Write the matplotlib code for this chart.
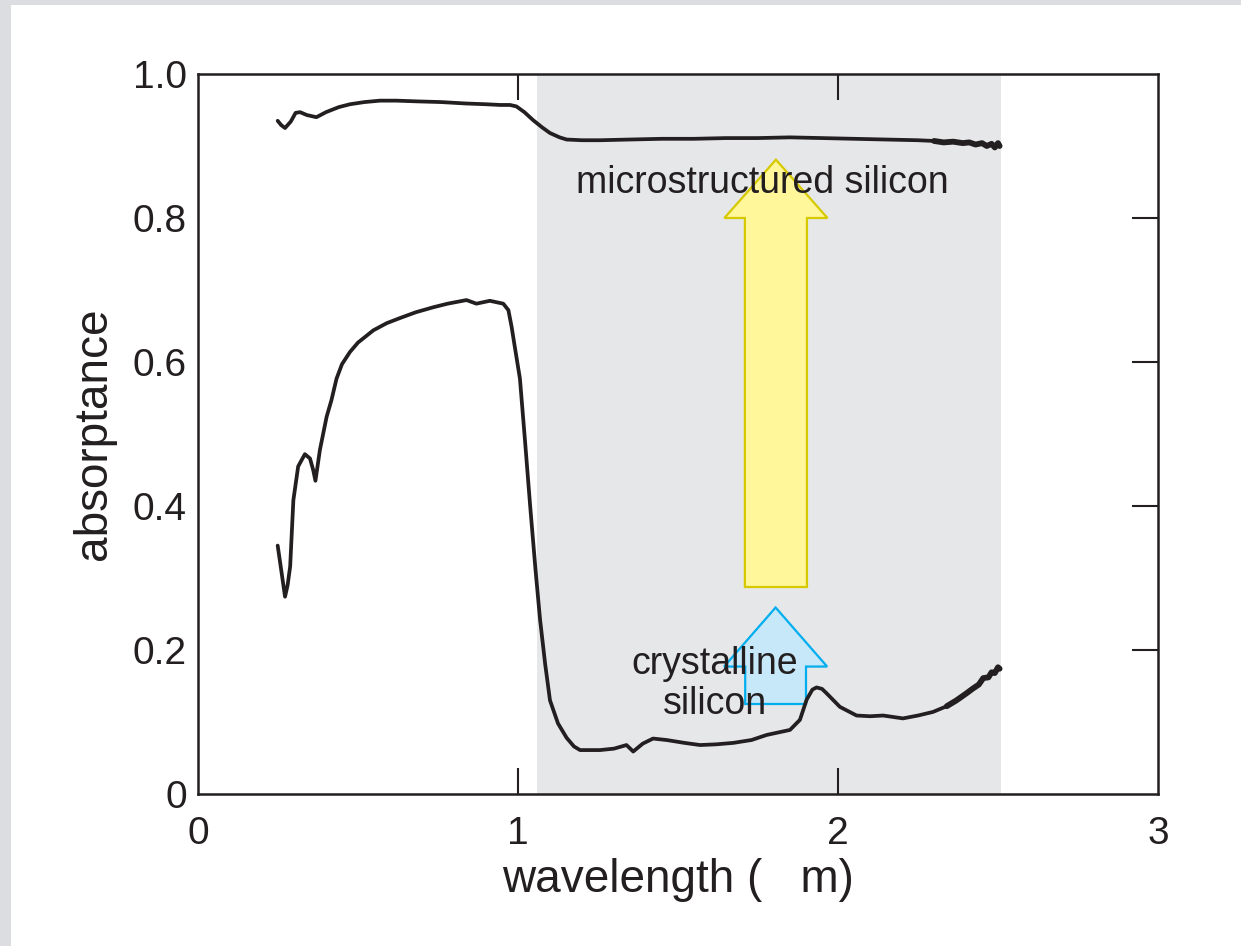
import matplotlib
matplotlib.use("Agg")
import matplotlib.pyplot as plt
from matplotlib.patches import FancyArrow, Rectangle
import numpy as np

plt.rcParams['font.family'] = ['Liberation Sans', 'DejaVu Sans']

# microstructured silicon (upper curve)
x_micro = [0.249, 0.260, 0.272, 0.290, 0.305, 0.319, 0.340, 0.370, 0.400, 0.440, 0.475,
           0.520, 0.569, 0.620, 0.683, 0.760, 0.839, 0.900, 0.944, 0.975, 0.995,
           1.020, 1.047, 1.075, 1.100, 1.130, 1.152, 1.200, 1.256, 1.350, 1.450,
           1.550, 1.650, 1.750, 1.850, 1.950, 2.050, 2.150, 2.250, 2.300, 2.330,
           2.360, 2.390, 2.410, 2.430, 2.450, 2.465, 2.480, 2.490, 2.500, 2.505]
y_micro = [0.935, 0.929, 0.925, 0.934, 0.946, 0.947, 0.943, 0.940, 0.947, 0.954, 0.958,
           0.961, 0.963, 0.963, 0.962, 0.961, 0.959, 0.958, 0.957, 0.957, 0.955,
           0.947, 0.936, 0.926, 0.918, 0.912, 0.909, 0.908, 0.908, 0.909, 0.910,
           0.910, 0.911, 0.911, 0.912, 0.911, 0.910, 0.909, 0.908, 0.907, 0.905,
           0.906, 0.904, 0.905, 0.902, 0.904, 0.900, 0.903, 0.898, 0.904, 0.900]

# crystalline silicon (lower curve)
x_cryst = [0.249, 0.262, 0.272, 0.280, 0.288, 0.298, 0.313, 0.334, 0.350, 0.360, 0.367,
           0.381, 0.402, 0.417, 0.433, 0.450, 0.475, 0.500, 0.548, 0.590, 0.631,
           0.680, 0.735, 0.780, 0.839, 0.870,
           0.912, 0.954, 0.970, 0.980, 0.990, 1.006, 1.022, 1.038, 1.055, 1.069,
           1.085, 1.100, 1.125, 1.152, 1.175, 1.194, 1.256, 1.300, 1.339, 1.360,
           1.390, 1.422, 1.464, 1.520, 1.569, 1.620, 1.673, 1.730, 1.777, 1.850,
           1.881, 1.902, 1.920, 1.933, 1.950, 1.964, 2.006, 2.058, 2.100, 2.141,
           2.203, 2.250, 2.297, 2.340, 2.370, 2.402, 2.420, 2.440, 2.454, 2.470,
           2.480, 2.490, 2.500, 2.505]
y_cryst = [0.345, 0.305, 0.274, 0.290, 0.316, 0.408, 0.455, 0.472, 0.466, 0.450, 0.435,
           0.478, 0.524, 0.547, 0.577, 0.597, 0.614, 0.627, 0.644, 0.654, 0.661,
           0.669, 0.676, 0.681, 0.686, 0.681,
           0.685, 0.681, 0.672, 0.649, 0.621, 0.577, 0.490, 0.400, 0.310, 0.242,
           0.180, 0.130, 0.098, 0.078, 0.066, 0.061, 0.061, 0.063, 0.068, 0.059,
           0.070, 0.077, 0.075, 0.071, 0.068, 0.069, 0.071, 0.075, 0.082, 0.089,
           0.103, 0.131, 0.145, 0.148, 0.146, 0.140, 0.121, 0.109, 0.108, 0.109,
           0.105, 0.109, 0.114, 0.122, 0.130, 0.140, 0.146, 0.152, 0.161, 0.162,
           0.169, 0.168, 0.176, 0.174]

x_ticks = [0, 1, 2, 3]
x_ticklabels = ['0', '1', '2', '3']
y_ticks = [0, 0.2, 0.4, 0.6, 0.8, 1.0]
y_ticklabels = ['0', '0.2', '0.4', '0.6', '0.8', '1.0']

span_lo, span_hi = 1.06, 2.51
noisy_from = 2.30  # the measured traces get grainy beyond this wavelength

# arrows: center x, base y, tip y, shaft width, head width, head length
arrow_big = (1.806, 0.2875, 0.881, 0.194, 0.322, 0.081)
arrow_small = (1.805, 0.125, 0.259, 0.19, 0.322, 0.082)

ink = '#231f20'

fig = plt.figure(figsize=(12.41, 9.46), dpi=100, facecolor='#dcdde0')
fig.patches.append(Rectangle((11 / 1241, 0), 1, 1 - 5 / 946, transform=fig.transFigure,
                             facecolor='white', edgecolor='none', zorder=-10))
ax = fig.add_axes([198 / 1241, 152 / 946, 960 / 1241, 720 / 946])
ax.set_facecolor('white')

ax.axvspan(span_lo, span_hi, color='#e6e7e8', zorder=0, lw=0)

for a, fc, ec in [(arrow_big, '#fff799', '#d7c900'), (arrow_small, '#c6e8f8', '#00aeef')]:
    xc, yb, yt, w, hw, hl = a
    ax.add_patch(FancyArrow(xc, yb, 0, yt - yb, width=w, head_width=hw, head_length=hl,
                            length_includes_head=True, facecolor=fc, edgecolor=ec,
                            lw=1.6, zorder=2))

for xs, ys in [(x_micro, y_micro), (x_cryst, y_cryst)]:
    xs = np.array(xs)
    ys = np.array(ys)
    ax.plot(xs, ys, color=ink, lw=2.7, zorder=3, solid_joinstyle='round',
            solid_capstyle='round')
    m = xs >= noisy_from
    ax.plot(xs[m], ys[m], color=ink, lw=4.2, zorder=3, solid_joinstyle='round',
            solid_capstyle='round')

ax.text(1.7625, 0.849, 'microstructured silicon', ha='center', va='center',
        fontsize=27, color=ink, zorder=4)
ax.text(1.616, 0.153, 'crystalline\nsilicon', ha='center', va='center',
        fontsize=27, color=ink, linespacing=1.12, zorder=4)

ax.set_xlim(0, 3)
ax.set_ylim(0, 1.0)
ax.set_xticks(x_ticks)
ax.set_xticklabels(x_ticklabels)
ax.set_yticks(y_ticks)
ax.set_yticklabels(y_ticklabels)
ax.tick_params(axis='x', bottom=True, top=True, direction='in', length=19, width=1.5,
               labelsize=28, pad=16, colors=ink)
ax.tick_params(axis='y', left=False, right=True, labelleft=True, labelright=False,
               direction='in', length=19, width=1.5, labelsize=28, pad=8, colors=ink)
# no tick marks at the corners
for axis in (ax.xaxis, ax.yaxis):
    ticks = axis.get_major_ticks()
    for t in (ticks[0], ticks[-1]):
        t.tick1line.set_visible(False)
        t.tick2line.set_visible(False)
for s in ax.spines.values():
    s.set_linewidth(1.8)
    s.set_color(ink)

ax.set_xlabel('wavelength (   m)', fontsize=33, color=ink, labelpad=4)
ax.set_ylabel('absorptance', fontsize=33, color=ink, labelpad=12)

fig.savefig('out.png', dpi=100, facecolor=fig.get_facecolor())
